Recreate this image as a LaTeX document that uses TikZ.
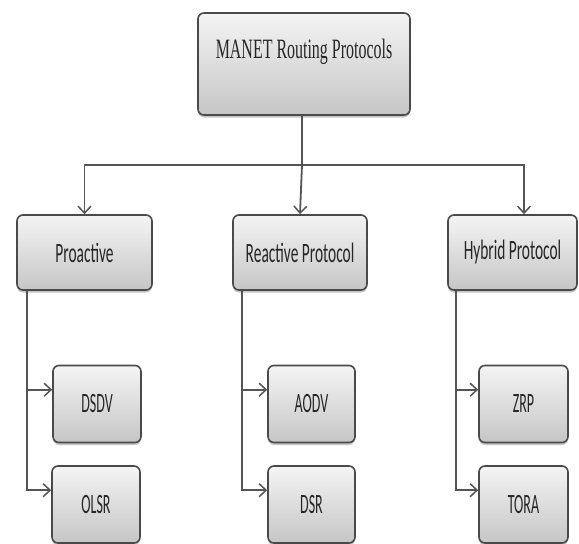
\documentclass[tikz,border=0pt]{standalone}
\usepackage{fontspec}
\usepackage{graphicx}
\usetikzlibrary{arrows.meta,shadows}
\newfontfamily\rootfont{Liberation Serif}
\newfontfamily\boxfont{Carlito}
\newcommand{\sqtxt}[2]{\scalebox{#1}[1]{#2}}
\definecolor{edgegray}{HTML}{4A4A4A}
\definecolor{linegray}{HTML}{555555}
\definecolor{toptone}{HTML}{F4F4F4}
\definecolor{bottone}{HTML}{C6C6C6}
\tikzset{
  boxstyle/.style={draw=edgegray, line width=1.6pt, rounded corners=6pt,
    top color=toptone, bottom color=bottone, text=black!85,
    drop shadow={shadow xshift=0pt, shadow yshift=-2.5pt, opacity=0.45},
    inner sep=0pt},
  lvlone/.style={boxstyle, minimum height=75pt, font=\boxfont\fontsize{28}{30}\selectfont},
  leaf/.style={boxstyle, minimum width=88pt, minimum height=77pt, font=\boxfont\fontsize{28}{30}\selectfont},
  conn/.style={draw=linegray, line width=1.8pt, -{Straight Barb[length=7pt,width=13pt,line width=1.5pt]}},
  plain/.style={draw=linegray, line width=1.8pt}
}
\begin{document}
\begin{tikzpicture}[x=1pt,y=-1pt]
\useasboundingbox (0,0) rectangle (579,544);
\fill[white] (0,0) rectangle (579,544);

\node[boxstyle, minimum width=212pt, minimum height=102pt,
      font=\rootfont\fontsize{28}{30}\selectfont] (root) at (304,64)
      {\raisebox{6pt}[0pt][0pt]{\sqtxt{0.57}{MANET Routing Protocols}}};

\node[lvlone, minimum width=135pt] (pro) at (84.5,252.5) {\sqtxt{0.55}{Proactive}};
\node[lvlone, minimum width=134pt] (rea) at (300,252.5) {\sqtxt{0.55}{Reactive Protocol}};
\node[lvlone, minimum width=129pt] (hyb) at (512.5,252.5) {\sqtxt{0.55}{Hybrid Protocol}};

\node[leaf] (dsdv) at (97,404) {\sqtxt{0.5}{DSDV}};
\node[leaf] (olsr) at (96,504.5) {\sqtxt{0.5}{OLSR}};
\node[leaf, minimum width=87pt] (aodv) at (311.5,404) {\sqtxt{0.5}{AODV}};
\node[leaf, minimum width=87pt] (dsr) at (311.5,504.5) {\sqtxt{0.5}{DSR}};
\node[leaf, minimum width=89pt] (zrp) at (523.5,404) {\sqtxt{0.5}{ZRP}};
\node[leaf, minimum width=89pt] (tora) at (523.5,504.5) {\sqtxt{0.5}{TORA}};

\coordinate (bus) at (300,165);
\draw[plain] ([xshift=-2pt]root.south) -- ([xshift=-2pt]root.south |- bus);
\draw[conn] (bus) -| (pro.north);
\draw[conn] ([xshift=-2pt]root.south |- bus) -- (rea.north);
\draw[conn] (bus) -| ([xshift=11.5pt]hyb.north);

\draw[conn] ([xshift=11pt]pro.south west) |- ([yshift=-25pt]dsdv.north west);
\draw[conn] ([xshift=11pt]pro.south west) |- ([yshift=-25pt]olsr.north west);
\draw[conn] ([xshift=10pt]rea.south west) |- ([yshift=-25pt]aodv.north west);
\draw[conn] ([xshift=10pt]rea.south west) |- ([yshift=-25pt]dsr.north west);
\draw[conn] ([xshift=9pt]hyb.south west) |- ([yshift=-25pt]zrp.north west);
\draw[conn] ([xshift=9pt]hyb.south west) |- ([yshift=-25pt]tora.north west);
\end{tikzpicture}
\end{document}
